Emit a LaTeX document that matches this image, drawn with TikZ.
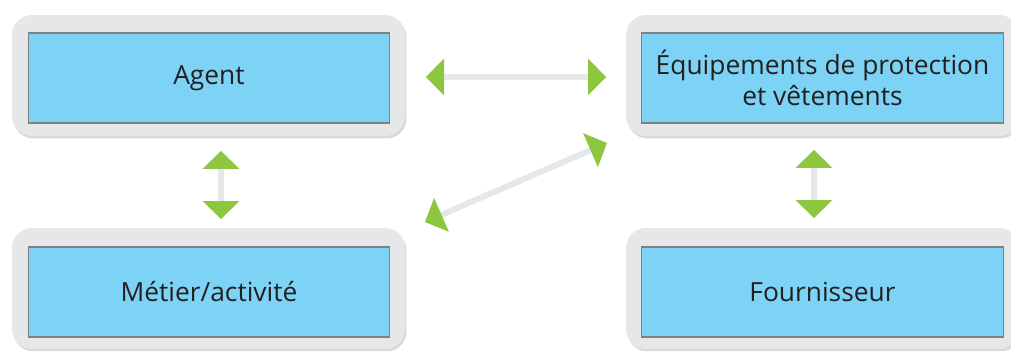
\documentclass[tikz,border=0pt]{standalone}
\usepackage{fontspec}
\setmainfont{Open Sans}
\usetikzlibrary{arrows.meta, shadows}
\definecolor{boxgray}{HTML}{E6E7E8}
\definecolor{boxblue}{HTML}{7DD3F5}
\definecolor{tipgreen}{HTML}{8DC63F}
\definecolor{textdark}{HTML}{231F20}
\tikzset{gtip/.tip={Triangle[length=0.36cm, width=0.74cm, line width=0pt, color=tipgreen]}}

\begin{document}
\begin{tikzpicture}[x=0.02cm, y=-0.02cm,
		outerbox/.style={rounded corners=0.4cm, fill=boxgray, minimum width=7.86cm, minimum height=2.42cm,
			drop shadow={shadow xshift=0.03cm, shadow yshift=-0.05cm, opacity=0.3}},
		innerbox/.style={fill=boxblue, draw=black!50, line width=0.6pt, minimum width=7.24cm, minimum height=1.8cm,
			align=center, text=textdark, font=\fontsize{15}{17.6}\selectfont},
		link/.style={draw=boxgray, line width=0.12cm, gtip-gtip}]
		\useasboundingbox (0,0) rectangle (1011,351);
		\node[outerbox] (ag0) at (208.5,75.5) {};
		\node[innerbox] (ag) at (209,78) {Agent};
		\node[outerbox] (ep0) at (822.5,75.5) {};
		\node[innerbox] (ep) at (822.5,78) {Équipements de protection\\et vêtements};
		\node[outerbox] (mt0) at (208.5,288.5) {};
		\node[innerbox] (mt) at (209,292) {Métier/activité};
		\node[outerbox] (fo0) at (822.5,288.5) {};
		\node[innerbox] (fo) at (822.5,292) {Fournisseur};
		\coordinate (h1) at (426,77); \coordinate (h2) at (606,77);
		\coordinate (d1) at (425,222); \coordinate (d2) at (607,143);
		\coordinate (v1) at (221,151); \coordinate (v2) at (221,219);
		\coordinate (w1) at (814,150); \coordinate (w2) at (814,218);
		\foreach \from/\to in {h1/h2,d1/d2,v1/v2,w1/w2}
			\draw[link] (\from) -- (\to);
	\end{tikzpicture}
\end{document}
